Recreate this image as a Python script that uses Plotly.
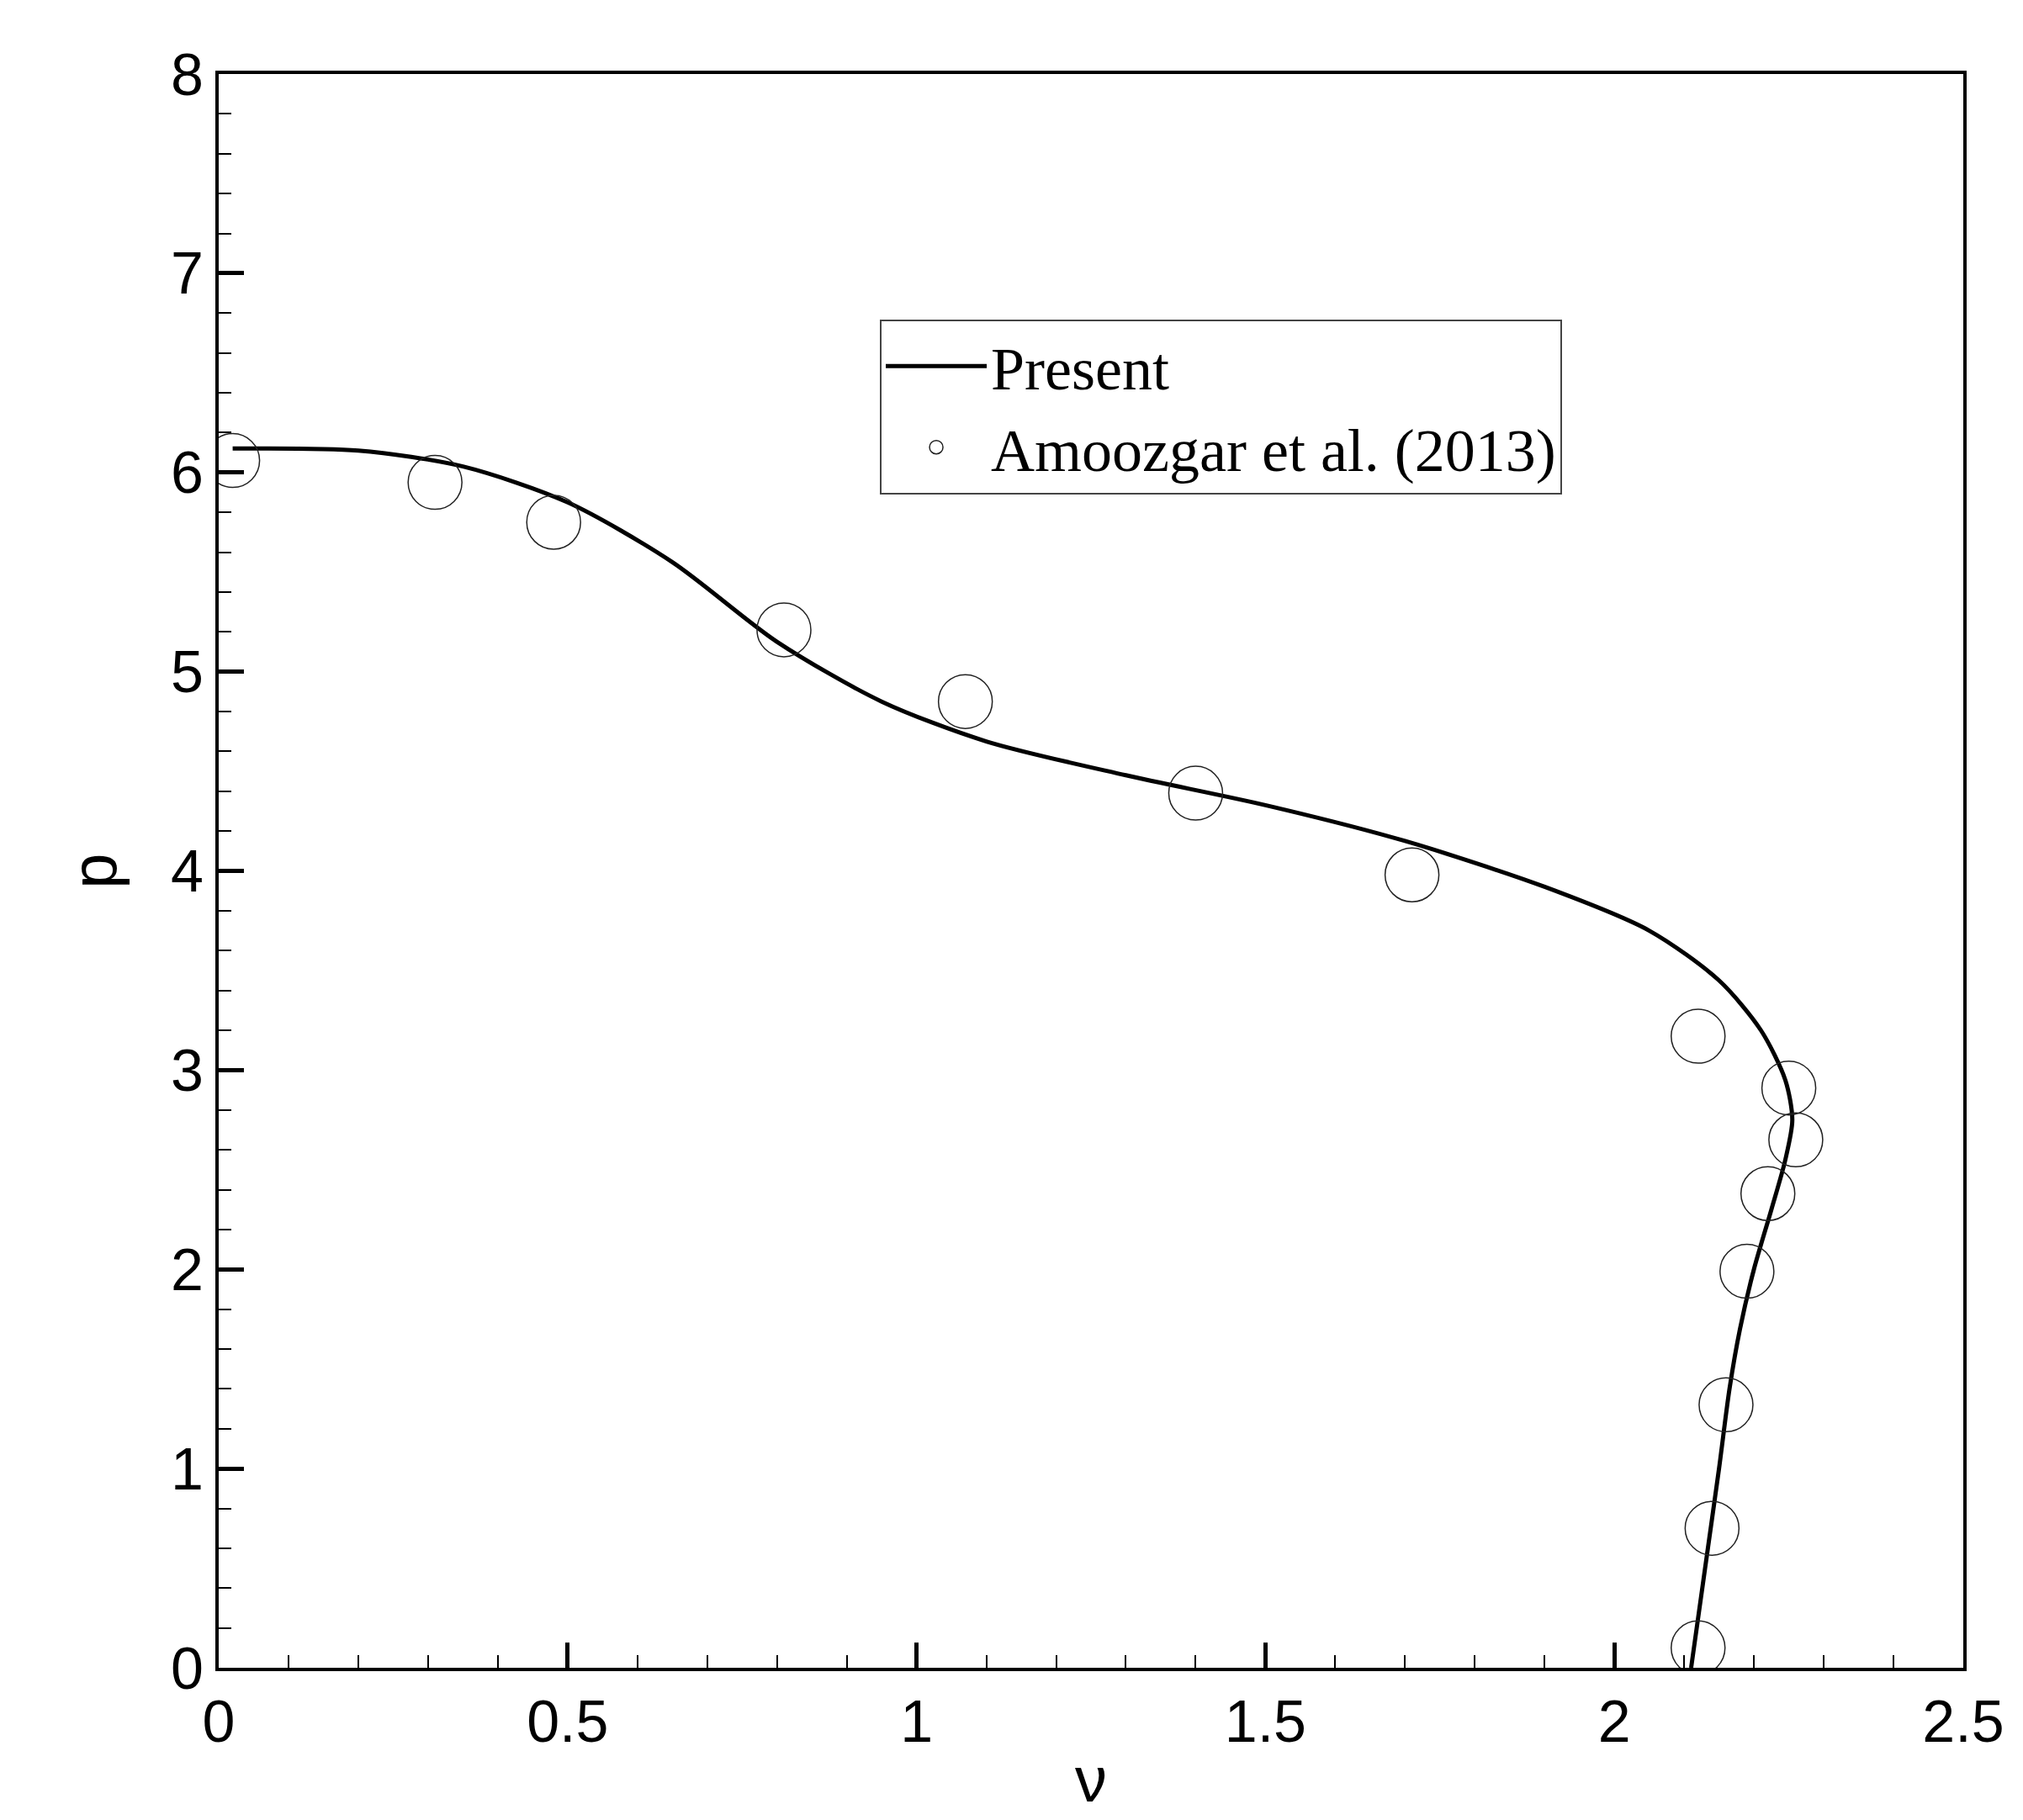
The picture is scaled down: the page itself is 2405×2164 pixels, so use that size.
import plotly.graph_objects as go

line_x = [0.02,0.2,0.35,0.5,0.65,0.8,0.95,1.1,1.3,1.5,1.7,1.9,2.05,2.15,2.21,2.245,2.255,2.245,2.225,2.20,2.18,2.165,2.15,2.13,2.11]
line_y = [6.12,6.11,6.03,5.85,5.55,5.15,4.85,4.65,4.48,4.33,4.15,3.92,3.70,3.45,3.20,2.95,2.75,2.55,2.30,2.00,1.70,1.40,1.00,0.50,0.00]
ref_x = [0.02,0.31,0.48,0.81,1.07,1.40,1.71,2.12,2.25,2.26,2.22,2.19,2.16,2.14,2.12]
ref_y = [6.06,5.95,5.75,5.21,4.85,4.39,3.98,3.17,2.91,2.65,2.38,1.99,1.32,0.70,0.10]

fig = go.Figure()
fig.add_trace(go.Scatter(x=line_x, y=line_y, mode="lines", name="Present",
                         line=dict(color="black", width=5, shape="spline", smoothing=0.8)))
fig.add_trace(go.Scatter(x=ref_x, y=ref_y, mode="markers", name="Amoozgar et al. (2013)",
                         marker=dict(symbol="circle-open", size=64, color="#222", line=dict(width=1.5))))

axis_common = dict(showline=True, linecolor="black", linewidth=4, mirror=True, showgrid=False,
                   zeroline=False, ticks="inside", tickcolor="black", tickwidth=5, ticklen=30,
                   tickfont=dict(family="Liberation Sans", size=70, color="black"))
fig.update_xaxes(range=[0, 2.5], dtick=0.5, title=dict(text="ν", font=dict(family="Liberation Sans", size=76, color="black"), standoff=5),
                 minor=dict(ticks="inside", dtick=0.1, ticklen=15, tickwidth=2, tickcolor="black"), **axis_common)
fig.update_yaxes(range=[0, 8], dtick=1, title=dict(text="p", font=dict(family="Liberation Sans", size=76, color="black"), standoff=40),
                 minor=dict(ticks="inside", dtick=0.2, ticklen=15, tickwidth=2, tickcolor="black"), **axis_common)
fig.update_layout(width=2405, height=2164, paper_bgcolor="white", plot_bgcolor="white",
                  margin=dict(l=252, r=79, t=80, b=189),
                  legend=dict(x=0.379, y=0.846, xanchor="left", yanchor="top", bgcolor="white",
                              bordercolor="#444", borderwidth=2, itemwidth=120,
                              font=dict(family="Liberation Serif", size=72, color="black"),
                              tracegroupgap=20))
fig.write_html("out.html")
